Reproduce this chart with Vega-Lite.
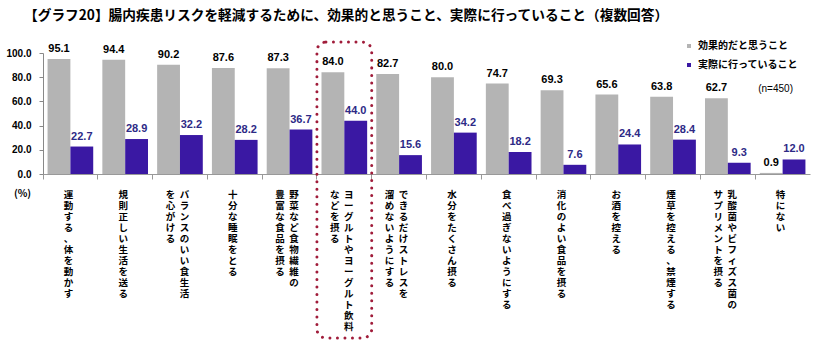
{
  "$schema": "https://vega.github.io/schema/vega-lite/v6.json",
  "width": 767,
  "height": 121,
  "padding": {"left": 5, "top": 8, "right": 5, "bottom": 5},
  "background": "white",
  "config": {
    "font": "Noto Sans CJK JP",
    "view": {"stroke": null},
    "axis": {"labelFont": "Liberation Sans", "labelFontWeight": "bold", "labelColor": "#000"}
  },
  "title": {
    "text": "【グラフ20】腸内疾患リスクを軽減するために、効果的と思うこと、実際に行っていること（複数回答）",
    "anchor": "start",
    "frame": "group",
    "dx": -19,
    "fontSize": 13.7,
    "fontWeight": "bold",
    "color": "#000",
    "offset": 18
  },
  "datasets": {
    "bars": [
      {"item": "運動する、体を動かす", "series": "効果的だと思うこと", "value": 95.1},
      {"item": "運動する、体を動かす", "series": "実際に行っていること", "value": 22.7},
      {"item": "規則正しい生活を送る", "series": "効果的だと思うこと", "value": 94.4},
      {"item": "規則正しい生活を送る", "series": "実際に行っていること", "value": 28.9},
      {"item": "バランスのいい食生活を心がける", "series": "効果的だと思うこと", "value": 90.2},
      {"item": "バランスのいい食生活を心がける", "series": "実際に行っていること", "value": 32.2},
      {"item": "十分な睡眠をとる", "series": "効果的だと思うこと", "value": 87.6},
      {"item": "十分な睡眠をとる", "series": "実際に行っていること", "value": 28.2},
      {"item": "野菜など食物繊維の豊富な食品を摂る", "series": "効果的だと思うこと", "value": 87.3},
      {"item": "野菜など食物繊維の豊富な食品を摂る", "series": "実際に行っていること", "value": 36.7},
      {"item": "ヨーグルトやヨーグルト飲料などを摂る", "series": "効果的だと思うこと", "value": 84.0},
      {"item": "ヨーグルトやヨーグルト飲料などを摂る", "series": "実際に行っていること", "value": 44.0},
      {"item": "できるだけストレスを溜めないようにする", "series": "効果的だと思うこと", "value": 82.7},
      {"item": "できるだけストレスを溜めないようにする", "series": "実際に行っていること", "value": 15.6},
      {"item": "水分をたくさん摂る", "series": "効果的だと思うこと", "value": 80.0},
      {"item": "水分をたくさん摂る", "series": "実際に行っていること", "value": 34.2},
      {"item": "食べ過ぎないようにする", "series": "効果的だと思うこと", "value": 74.7},
      {"item": "食べ過ぎないようにする", "series": "実際に行っていること", "value": 18.2},
      {"item": "消化のよい食品を摂る", "series": "効果的だと思うこと", "value": 69.3},
      {"item": "消化のよい食品を摂る", "series": "実際に行っていること", "value": 7.6},
      {"item": "お酒を控える", "series": "効果的だと思うこと", "value": 65.6},
      {"item": "お酒を控える", "series": "実際に行っていること", "value": 24.4},
      {"item": "煙草を控える、禁煙する", "series": "効果的だと思うこと", "value": 63.8},
      {"item": "煙草を控える、禁煙する", "series": "実際に行っていること", "value": 28.4},
      {"item": "乳酸菌やビフィズス菌のサプリメントを摂る", "series": "効果的だと思うこと", "value": 62.7},
      {"item": "乳酸菌やビフィズス菌のサプリメントを摂る", "series": "実際に行っていること", "value": 9.3},
      {"item": "特にない", "series": "効果的だと思うこと", "value": 0.9},
      {"item": "特にない", "series": "実際に行っていること", "value": 12.0}
    ],
    "labels": [
      {"item": "運動する、体を動かす", "c1": "運動する、体を動かす", "c2": null},
      {"item": "規則正しい生活を送る", "c1": "規則正しい生活を送る", "c2": null},
      {"item": "バランスのいい食生活を心がける", "c1": "バランスのいい食生活", "c2": "を心がける"},
      {"item": "十分な睡眠をとる", "c1": "十分な睡眠をとる", "c2": null},
      {"item": "野菜など食物繊維の豊富な食品を摂る", "c1": "野菜など食物繊維の", "c2": "豊富な食品を摂る"},
      {"item": "ヨーグルトやヨーグルト飲料などを摂る", "c1": "ヨーグルトやヨーグルト飲料", "c2": "などを摂る"},
      {"item": "できるだけストレスを溜めないようにする", "c1": "できるだけストレスを", "c2": "溜めないようにする"},
      {"item": "水分をたくさん摂る", "c1": "水分をたくさん摂る", "c2": null},
      {"item": "食べ過ぎないようにする", "c1": "食べ過ぎないようにする", "c2": null},
      {"item": "消化のよい食品を摂る", "c1": "消化のよい食品を摂る", "c2": null},
      {"item": "お酒を控える", "c1": "お酒を控える", "c2": null},
      {"item": "煙草を控える、禁煙する", "c1": "煙草を控える、禁煙する", "c2": null},
      {"item": "乳酸菌やビフィズス菌のサプリメントを摂る", "c1": "乳酸菌やビフィズス菌の", "c2": "サプリメントを摂る"},
      {"item": "特にない", "c1": "特にない", "c2": null}
    ]
  },
  "encoding": {
    "x": {
      "field": "item",
      "type": "nominal",
      "scale": {
        "domain": ["運動する、体を動かす", "規則正しい生活を送る", "バランスのいい食生活を心がける", "十分な睡眠をとる", "野菜など食物繊維の豊富な食品を摂る", "ヨーグルトやヨーグルト飲料などを摂る", "できるだけストレスを溜めないようにする", "水分をたくさん摂る", "食べ過ぎないようにする", "消化のよい食品を摂る", "お酒を控える", "煙草を控える、禁煙する", "乳酸菌やビフィズス菌のサプリメントを摂る", "特にない"],
        "paddingInner": 0,
        "paddingOuter": 0
      },
      "axis": {"title": null, "labels": false, "bandPosition": 0, "tickSize": 5, "domainColor": "#999", "tickColor": "#999"}
    }
  },
  "layer": [
    {
      "data": {"name": "bars"},
      "mark": {"type": "bar"},
      "encoding": {
        "xOffset": {"field": "series", "type": "nominal", "sort": ["効果的だと思うこと", "実際に行っていること"], "scale": {"paddingInner": 0, "paddingOuter": 0.2}},
        "y": {
          "field": "value",
          "type": "quantitative",
          "scale": {"domain": [0, 100], "nice": false},
          "axis": {"title": "(%)", "titleAngle": 0, "titleX": -21, "titleY": 140, "titleAlign": "center", "titleBaseline": "middle", "titleFontSize": 10, "titleFontWeight": "bold", "titleFont": "Noto Sans CJK JP", "values": [0, 20, 40, 60, 80, 100], "format": ".1f", "grid": false, "labelOverlap": false, "labelFontSize": 10, "labelPadding": 8, "tickSize": 4, "domainColor": "#888", "tickColor": "#888"}
        },
        "color": {
          "field": "series",
          "type": "nominal",
          "scale": {"domain": ["効果的だと思うこと", "実際に行っていること"], "range": ["#b4b4b4", "#3a18a3"]},
          "legend": {
            "title": null,
            "orient": "none",
            "legendX": 641,
            "legendY": -12,
            "symbolType": "square",
            "symbolSize": 16,
            "rowPadding": 9,
            "labelFontSize": 10,
            "labelFontWeight": "bold",
            "labelFont": "Noto Sans CJK JP",
            "labelColor": "#000"
          }
        }
      }
    },
    {
      "data": {"name": "bars"},
      "mark": {"type": "text", "baseline": "alphabetic", "dy": -7, "fontSize": 11, "fontWeight": "bold", "font": "Liberation Sans"},
      "encoding": {
        "xOffset": {"field": "series", "type": "nominal", "sort": ["効果的だと思うこと", "実際に行っていること"], "scale": {"paddingInner": 0, "paddingOuter": 0.2}},
        "y": {"field": "value", "type": "quantitative", "axis": {"title": "(%)", "titleAngle": 0, "titleX": -21, "titleY": 140, "titleAlign": "center", "titleBaseline": "middle", "titleFontSize": 10, "titleFontWeight": "bold", "titleFont": "Noto Sans CJK JP", "values": [0, 20, 40, 60, 80, 100], "format": ".1f", "grid": false, "labelOverlap": false, "labelFontSize": 10, "labelPadding": 8, "tickSize": 4, "domainColor": "#888", "tickColor": "#888"}},
        "text": {"field": "value", "type": "quantitative", "format": ".1f"},
        "color": {"condition": {"test": "datum.series === '効果的だと思うこと'", "value": "#000000"}, "value": "#2d2a86"}
      }
    },
    {
      "data": {"name": "labels"},
      "transform": [{"filter": "datum.item === 'ヨーグルトやヨーグルト飲料などを摂る'"}],
      "mark": {"type": "rect", "fill": null, "stroke": "#a01c3a", "strokeWidth": 3, "strokeDash": [0.01, 7.5], "strokeCap": "round", "cornerRadius": 9},
      "encoding": {
        "y": {"datum": 109, "axis": {"title": "(%)", "titleAngle": 0, "titleX": -21, "titleY": 140, "titleAlign": "center", "titleBaseline": "middle", "titleFontSize": 10, "titleFontWeight": "bold", "titleFont": "Noto Sans CJK JP", "values": [0, 20, 40, 60, 80, 100], "format": ".1f", "grid": false, "labelOverlap": false, "labelFontSize": 10, "labelPadding": 8, "tickSize": 4, "domainColor": "#888", "tickColor": "#888"}},
        "y2": {"datum": -135.5}
      }
    },
    {
      "data": {"name": "labels"},
      "transform": [{"filter": "datum.c2 == null"}, {"calculate": "join(split(datum.c1, ''), '\\n')", "as": "t"}],
      "mark": {"type": "text", "baseline": "top", "align": "center", "dx": -2, "fontSize": 9.5, "fontWeight": "bold", "lineHeight": 11, "lineBreak": "\n", "color": "#000"},
      "encoding": {
        "y": {"datum": -13, "axis": {"title": "(%)", "titleAngle": 0, "titleX": -21, "titleY": 140, "titleAlign": "center", "titleBaseline": "middle", "titleFontSize": 10, "titleFontWeight": "bold", "titleFont": "Noto Sans CJK JP", "values": [0, 20, 40, 60, 80, 100], "format": ".1f", "grid": false, "labelOverlap": false, "labelFontSize": 10, "labelPadding": 8, "tickSize": 4, "domainColor": "#888", "tickColor": "#888"}},
        "text": {"field": "t", "type": "nominal"}
      }
    },
    {
      "data": {"name": "labels"},
      "transform": [{"filter": "datum.c2 != null"}, {"calculate": "join(split(datum.c1, ''), '\\n')", "as": "t"}],
      "mark": {"type": "text", "baseline": "top", "align": "center", "dx": 4.5, "fontSize": 9.5, "fontWeight": "bold", "lineHeight": 11, "lineBreak": "\n", "color": "#000"},
      "encoding": {
        "y": {"datum": -13, "axis": {"title": "(%)", "titleAngle": 0, "titleX": -21, "titleY": 140, "titleAlign": "center", "titleBaseline": "middle", "titleFontSize": 10, "titleFontWeight": "bold", "titleFont": "Noto Sans CJK JP", "values": [0, 20, 40, 60, 80, 100], "format": ".1f", "grid": false, "labelOverlap": false, "labelFontSize": 10, "labelPadding": 8, "tickSize": 4, "domainColor": "#888", "tickColor": "#888"}},
        "text": {"field": "t", "type": "nominal"}
      }
    },
    {
      "data": {"name": "labels"},
      "transform": [{"filter": "datum.c2 != null"}, {"calculate": "join(split(datum.c2, ''), '\\n')", "as": "t"}],
      "mark": {"type": "text", "baseline": "top", "align": "center", "dx": -9.5, "fontSize": 9.5, "fontWeight": "bold", "lineHeight": 11, "lineBreak": "\n", "color": "#000"},
      "encoding": {
        "y": {"datum": -13, "axis": {"title": "(%)", "titleAngle": 0, "titleX": -21, "titleY": 140, "titleAlign": "center", "titleBaseline": "middle", "titleFontSize": 10, "titleFontWeight": "bold", "titleFont": "Noto Sans CJK JP", "values": [0, 20, 40, 60, 80, 100], "format": ".1f", "grid": false, "labelOverlap": false, "labelFontSize": 10, "labelPadding": 8, "tickSize": 4, "domainColor": "#888", "tickColor": "#888"}},
        "text": {"field": "t", "type": "nominal"}
      }
    },
    {
      "data": {"name": "labels"},
      "transform": [{"filter": "datum.item === '特にない'"}],
      "mark": {"type": "text", "align": "center", "baseline": "middle", "dx": -7, "fontSize": 10, "color": "#000", "font": "Liberation Sans"},
      "encoding": {
        "y": {"datum": 70, "axis": {"title": "(%)", "titleAngle": 0, "titleX": -21, "titleY": 140, "titleAlign": "center", "titleBaseline": "middle", "titleFontSize": 10, "titleFontWeight": "bold", "titleFont": "Noto Sans CJK JP", "values": [0, 20, 40, 60, 80, 100], "format": ".1f", "grid": false, "labelOverlap": false, "labelFontSize": 10, "labelPadding": 8, "tickSize": 4, "domainColor": "#888", "tickColor": "#888"}},
        "text": {"value": "(n=450)"}
      }
    }
  ]
}
